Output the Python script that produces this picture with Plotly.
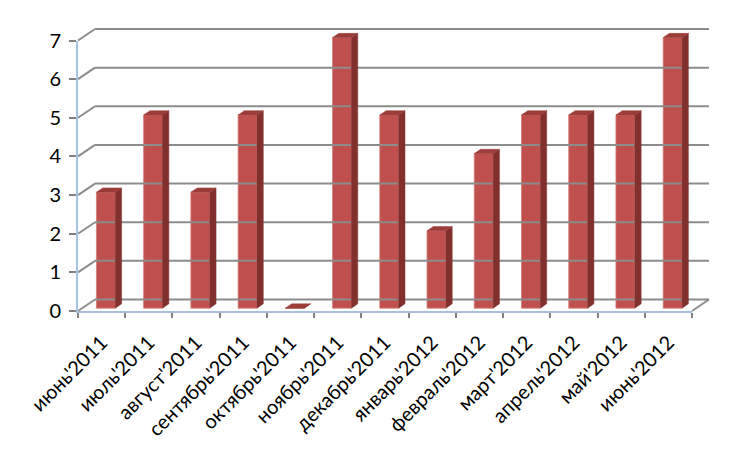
import plotly.graph_objects as go

# ---- data ----
months = ["июнь'2011", "июль'2011", "август'2011", "сентябрь'2011", "октябрь'2011",
          "ноябрь'2011", "декабрь'2011", "январь'2012", "февраль'2012", "март'2012",
          "апрель'2012", "май'2012", "июнь'2012"]
values = [3, 5, 3, 5, 0, 7, 5, 2, 4, 5, 5, 5, 7]
y_ticks = [0, 1, 2, 3, 4, 5, 6, 7]

# ---- geometry (pixels, compensated for the 8px page margin) ----
W, H = 750, 450
OFF = 8
X0, X1 = 78 - OFF, 692 - OFF      # front plane left/right
Y0, YT = 311 - OFF, 40.5 - OFF    # front plane value 0 / value max
n = len(months)
ymax = max(y_ticks)
cat_px = (X1 - X0) / n
unit_px = (Y0 - YT) / ymax
DX_PX, DY_PX = 17, 11.5   # depth offset of back wall
dxb = DX_PX / cat_px
dyb = DY_PX / unit_px
f_front, f_back = 0.25, 0.62
bar_w = 0.40

x_lo = -0.5 - X0 / cat_px
x_hi = x_lo + W / cat_px
y_lo = -(H - Y0) / unit_px
y_hi = y_lo + H / unit_px

FRONT = "#C0504D"
SIDE = "#82302E"
TOP = "#9C3D3A"
GRID = "#8C8C8C"
FONT = dict(family="Lato, Carlito, Calibri, sans-serif", size=20, color="black")

fig = go.Figure()

# walls / gridlines
gx, gy = [], []
for k in y_ticks:
    gx += [-0.5 + dxb, n - 0.5 + dxb, None, -0.5, -0.5 + dxb, None]
    gy += [k + dyb, k + dyb, None, k, k + dyb, None]
gx += [n - 0.5, n - 0.5 + dxb, None]
gy += [0, dyb, None]
fig.add_trace(go.Scatter(x=gx, y=gy, mode="lines", line=dict(color=GRID, width=2),
                         hoverinfo="skip", showlegend=False))

# bars
ddx = (f_back - f_front) * dxb
ddy = (f_back - f_front) * dyb
bx = [i + f_front * dxb for i in range(n)]
base = f_front * dyb
sx, sy, tx, ty = [], [], [], []
for i, v in enumerate(values):
    xr = bx[i] + bar_w / 2
    xl = bx[i] - bar_w / 2
    yv = v + base
    sx += [xr, xr + ddx, xr + ddx, xr, xr, None]
    sy += [base, base + ddy, yv + ddy, yv, base, None]
    tx += [xl, xl + ddx, xr + ddx, xr, xl, None]
    ty += [yv, yv + ddy, yv + ddy, yv, yv, None]

fig.add_trace(go.Scatter(x=sx, y=sy, mode="lines", fill="toself", fillcolor=SIDE,
                         line=dict(color=SIDE, width=0.5), hoverinfo="skip", showlegend=False))
fig.add_trace(go.Bar(x=bx, y=values, base=base, width=bar_w,
                     marker=dict(color=FRONT, line=dict(color="#D27B78", width=0.8)),
                     hoverinfo="skip", showlegend=False))
fig.add_trace(go.Scatter(x=tx, y=ty, mode="lines", fill="toself", fillcolor=TOP,
                         line=dict(color=TOP, width=0.5), hoverinfo="skip", showlegend=False))

# front axes (labels, ticks, axis lines)
fig.add_trace(go.Scatter(x=months, y=values, mode="markers", marker=dict(opacity=0),
                         xaxis="x2", yaxis="y2", hoverinfo="skip", showlegend=False))

fig.update_layout(
    width=W, height=H,
    margin=dict(l=0, r=0, t=0, b=0, autoexpand=False),
    paper_bgcolor="white", plot_bgcolor="rgba(0,0,0,0)",
    showlegend=False,
    xaxis=dict(domain=[0, 1], range=[x_lo, x_hi], visible=False, fixedrange=True,
               automargin=False),
    yaxis=dict(domain=[0, 1], range=[y_lo, y_hi], visible=False, fixedrange=True,
               automargin=False),
    xaxis2=dict(domain=[X0 / W, X1 / W], anchor="y2", type="category",
                categoryorder="array", categoryarray=months,
                range=[-0.5, n - 0.5], tickson="boundaries", ticks="outside",
                ticklen=5, tickwidth=2, tickcolor="#808080",
                showline=True, linecolor="#A7BFD8", linewidth=2,
                showgrid=False, zeroline=False, tickangle=-45, tickfont=FONT,
                ticklabelstandoff=10, fixedrange=True, automargin=False),
    yaxis2=dict(domain=[(H - Y0) / H, (H - YT) / H], anchor="x2",
                range=[0, ymax], tickvals=y_ticks, ticks="outside",
                ticklen=7, tickwidth=2, tickcolor="#808080",
                showline=True, linecolor="#A3C4E3", linewidth=2,
                showgrid=False, zeroline=False, tickfont=FONT,
                ticklabelstandoff=4, fixedrange=True, automargin=False),
)

fig.write_html("out.html")
